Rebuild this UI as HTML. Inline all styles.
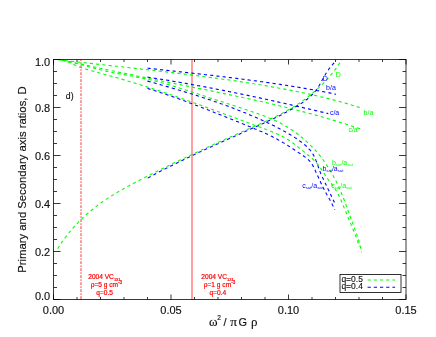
<!DOCTYPE html>
<html><head><meta charset="utf-8"><title>plot</title>
<style>html,body{margin:0;padding:0;background:#fff}svg{display:block;will-change:transform}text{font-family:"Liberation Sans",sans-serif}.gk{font-family:"Liberation Serif",serif}</style></head><body>
<svg width="436" height="337" viewBox="0 0 436 337">
<rect width="436" height="337" fill="#fff"/>
<line x1="81" y1="59.5" x2="81" y2="299.5" stroke="#f00" stroke-width="0.8" stroke-dasharray="2.8 1.3 1.6 1.3" stroke-dashoffset="1.3"/>
<line x1="192" y1="59.5" x2="192" y2="299.5" stroke="#f00" stroke-width="0.75"/>
<g fill="none" stroke-width="1.1" stroke-dasharray="3.2 3.1">
<path d="M58.5,59.8 L60.0,60.0 L61.6,60.1 L63.1,60.3 L64.7,60.5 L66.2,60.7 L67.7,60.8 L69.3,61.0 L70.8,61.2 L72.4,61.4 L73.9,61.5 L75.4,61.7 L77.0,61.9 L78.5,62.1 L80.1,62.2 L81.6,62.4 L83.1,62.6 L84.7,62.7 L86.2,62.9 L87.8,63.1 L89.3,63.3 L90.8,63.4 L92.4,63.6 L93.9,63.8 L95.5,63.9 L97.0,64.1 L98.5,64.3 L100.1,64.5 L101.6,64.6 L103.2,64.8 L104.7,65.0 L106.3,65.1 L107.8,65.3 L109.3,65.5 L110.9,65.6 L112.4,65.8 L114.0,66.0 L115.5,66.2 L117.0,66.3 L118.6,66.5 L120.1,66.7 L121.7,66.8 L123.2,67.0 L124.7,67.2 L126.3,67.3 L127.8,67.5 L129.4,67.7 L130.9,67.9 L132.4,68.0 L134.0,68.2 L135.5,68.4 L137.1,68.6 L138.6,68.7 L140.1,68.9 L141.7,69.1 L143.2,69.2 L144.8,69.4 L146.3,69.6 L147.8,69.8 L149.4,69.9 L150.9,70.1 L152.5,70.3 L154.0,70.5 L155.5,70.7 L157.1,70.8 L158.6,71.0 L160.2,71.2 L161.7,71.4 L163.2,71.5 L164.8,71.7 L166.3,71.9 L167.9,72.1 L169.4,72.3 L170.9,72.5 L172.5,72.6 L174.0,72.8 L175.6,73.0 L177.1,73.2 L178.6,73.4 L180.2,73.6 L181.7,73.8 L183.2,73.9 L184.8,74.1 L186.3,74.3 L187.9,74.5 L189.4,74.7 L190.9,74.9 L192.5,75.1 L194.0,75.3 L195.6,75.5 L197.1,75.7 L198.6,75.9 L200.2,76.1 L201.7,76.3 L203.3,76.5 L204.8,76.7 L206.3,76.9 L207.9,77.1 L209.4,77.3 L210.9,77.5 L212.5,77.7 L214.0,77.9 L215.6,78.1 L217.1,78.3 L218.6,78.5 L220.2,78.7 L221.7,79.0 L223.2,79.2 L224.8,79.4 L226.3,79.6 L227.8,79.8 L229.4,80.0 L230.9,80.3 L232.5,80.5 L234.0,80.7 L235.5,80.9 L237.1,81.2 L238.6,81.4 L240.1,81.6 L241.7,81.9 L243.2,82.1 L244.7,82.3 L246.3,82.6 L247.8,82.8 L249.3,83.0 L250.9,83.3 L252.4,83.5 L253.9,83.8 L255.4,84.0 L257.0,84.3 L258.5,84.5 L260.0,84.8 L261.6,85.0 L263.1,85.3 L264.6,85.6 L266.2,85.8 L267.7,86.1 L269.2,86.3 L270.7,86.6 L272.3,86.9 L273.8,87.1 L275.3,87.4 L276.8,87.7 L278.4,88.0 L279.9,88.2 L281.4,88.5 L282.9,88.8 L284.5,89.1 L286.0,89.4 L287.5,89.7 L289.0,90.0 L290.6,90.3 L292.1,90.6 L293.6,90.9 L295.1,91.2 L296.6,91.5 L298.1,91.8 L299.7,92.1 L301.2,92.4 L302.7,92.7 L304.2,93.0 L305.7,93.4 L307.2,93.7 L308.8,94.0 L310.3,94.3 L311.8,94.7 L313.3,95.0 L314.8,95.4 L316.3,95.7 L317.8,96.0 L319.3,96.4 L320.8,96.8 L322.3,97.1 L323.9,97.5 L325.4,97.8 L326.9,98.2 L328.4,98.6 L329.9,99.0 L331.4,99.4 L332.9,99.7 L334.4,100.1 L335.9,100.5 L337.4,100.9 L338.9,101.3 L340.3,101.7 L341.8,102.2 L343.3,102.6 L344.8,103.0 L346.3,103.4 L347.8,103.9 L349.3,104.3 L350.8,104.7 L352.3,105.2 L353.7,105.6 L355.2,106.1 L356.7,106.6 L358.2,107.0 L359.7,107.5 L361.1,108.0 L362.6,108.5" stroke="#00ff00" stroke-dashoffset="0"/>
<path d="M58.6,59.3 L60.1,59.7 L61.6,60.0 L63.2,60.3 L64.7,60.6 L66.2,60.9 L67.8,61.3 L69.3,61.6 L70.8,61.9 L72.4,62.3 L73.9,62.6 L75.4,62.9 L77.0,63.2 L78.5,63.6 L80.0,63.9 L81.5,64.2 L83.1,64.6 L84.6,64.9 L86.1,65.2 L87.7,65.5 L89.2,65.9 L90.7,66.2 L92.3,66.5 L93.8,66.9 L95.3,67.2 L96.9,67.5 L98.4,67.8 L99.9,68.2 L101.5,68.5 L103.0,68.8 L104.5,69.2 L106.0,69.5 L107.6,69.8 L109.1,70.1 L110.6,70.4 L112.2,70.8 L113.7,71.1 L115.2,71.4 L116.8,71.7 L118.3,72.1 L119.8,72.4 L121.4,72.7 L122.9,73.0 L124.4,73.3 L126.0,73.6 L127.5,74.0 L129.0,74.3 L130.6,74.6 L132.1,74.9 L133.6,75.2 L135.2,75.5 L136.7,75.9 L138.2,76.2 L139.8,76.5 L141.3,76.8 L142.8,77.1 L144.4,77.4 L145.9,77.7 L147.4,78.1 L149.0,78.4 L150.5,78.7 L152.0,79.0 L153.6,79.3 L155.1,79.6 L156.7,79.9 L158.2,80.2 L159.7,80.5 L161.3,80.9 L162.8,81.2 L164.3,81.5 L165.9,81.8 L167.4,82.1 L168.9,82.4 L170.5,82.7 L172.0,83.0 L173.5,83.3 L175.1,83.6 L176.6,84.0 L178.1,84.3 L179.7,84.6 L181.2,84.9 L182.8,85.2 L184.3,85.5 L185.8,85.8 L187.4,86.1 L188.9,86.4 L190.4,86.7 L192.0,87.0 L193.5,87.4 L195.0,87.7 L196.6,88.0 L198.1,88.3 L199.6,88.6 L201.2,88.9 L202.7,89.2 L204.3,89.5 L205.8,89.8 L207.3,90.1 L208.9,90.5 L210.4,90.8 L211.9,91.1 L213.5,91.4 L215.0,91.7 L216.5,92.0 L218.1,92.3 L219.6,92.7 L221.1,93.0 L222.7,93.3 L224.2,93.6 L225.7,93.9 L227.3,94.2 L228.8,94.6 L230.4,94.9 L231.9,95.2 L233.4,95.5 L235.0,95.8 L236.5,96.2 L238.0,96.5 L239.5,96.8 L241.1,97.1 L242.6,97.5 L244.1,97.8 L245.7,98.1 L247.2,98.5 L248.7,98.8 L250.3,99.1 L251.8,99.5 L253.3,99.8 L254.9,100.1 L256.4,100.5 L257.9,100.8 L259.4,101.2 L261.0,101.5 L262.5,101.8 L264.0,102.2 L265.6,102.5 L267.1,102.9 L268.6,103.2 L270.1,103.6 L271.7,104.0 L273.2,104.3 L274.7,104.7 L276.2,105.0 L277.8,105.4 L279.3,105.8 L280.8,106.1 L282.3,106.5 L283.8,106.9 L285.4,107.2 L286.9,107.6 L288.4,108.0 L289.9,108.4 L291.4,108.7 L293.0,109.1 L294.5,109.5 L296.0,109.9 L297.5,110.3 L299.0,110.7 L300.5,111.1 L302.1,111.5 L303.6,111.9 L305.1,112.3 L306.6,112.7 L308.1,113.1 L309.6,113.5 L311.1,113.9 L312.6,114.3 L314.2,114.7 L315.7,115.1 L317.2,115.5 L318.7,116.0 L320.2,116.4 L321.7,116.8 L323.2,117.3 L324.7,117.7 L326.2,118.1 L327.7,118.6 L329.2,119.0 L330.7,119.5 L332.2,119.9 L333.7,120.4 L335.2,120.8 L336.7,121.3 L338.2,121.7 L339.7,122.2 L341.2,122.7 L342.7,123.1 L344.2,123.6 L345.7,124.1 L347.2,124.6 L348.7,125.1 L350.1,125.5 L351.6,126.0 L353.1,126.5 L354.6,127.0 L356.1,127.5 L357.6,128.0 L359.1,128.5 L360.5,129.0 L362.0,129.6" stroke="#00ff00" stroke-dashoffset="2.4"/>
<path d="M58.5,59.7 L60.4,60.0 L62.4,60.3 L64.3,60.6 L66.2,61.0 L68.1,61.4 L70.0,61.8 L71.9,62.2 L73.8,62.7 L75.7,63.2 L77.6,63.7 L79.5,64.2 L81.4,64.7 L83.3,65.2 L85.2,65.7 L87.1,66.2 L89.0,66.8 L90.8,67.3 L92.7,67.8 L94.6,68.3 L96.5,68.8 L98.4,69.3 L100.3,69.8 L102.2,70.2 L104.1,70.7 L106.0,71.1 L107.9,71.5 L109.8,72.0 L111.7,72.3 L113.6,72.7 L115.6,73.1 L117.5,73.5 L119.4,73.9 L121.3,74.2 L123.3,74.6 L125.2,74.9 L127.1,75.3 L129.0,75.6 L130.9,76.0 L132.9,76.3 L134.8,76.7 L136.7,77.1 L138.6,77.4 L140.6,77.8 L142.5,78.2 L144.4,78.6 L146.3,79.0 L148.2,79.4 L150.1,79.8 L152.0,80.3 L153.9,80.7 L155.8,81.2 L157.7,81.7 L159.6,82.1 L161.5,82.7 L163.4,83.2 L165.2,83.7 L167.1,84.2 L169.0,84.8 L170.9,85.3 L172.7,85.9 L174.6,86.5 L176.5,87.1 L178.3,87.7 L180.2,88.2 L182.1,88.8 L183.9,89.4 L185.8,90.0 L187.7,90.6 L189.5,91.2 L191.4,91.8 L193.2,92.4 L195.1,93.0 L197.0,93.6 L198.8,94.2 L200.7,94.9 L202.5,95.5 L204.4,96.1 L206.3,96.7 L208.1,97.3 L210.0,97.9 L211.8,98.5 L213.7,99.1 L215.5,99.7 L217.4,100.3 L219.3,100.9 L221.1,101.5 L223.0,102.1 L224.8,102.7 L226.7,103.3 L228.5,103.9 L230.4,104.5 L232.3,105.1 L234.1,105.8 L236.0,106.4 L237.8,107.0 L239.7,107.6 L241.5,108.2 L243.4,108.8 L245.3,109.4 L247.1,110.1 L249.0,110.7 L250.8,111.3 L252.7,111.9 L254.5,112.5 L256.4,113.2 L258.2,113.8 L260.1,114.5 L261.9,115.1 L263.8,115.8 L265.6,116.5 L267.4,117.2 L269.2,118.0 L271.0,118.7 L272.8,119.5 L274.6,120.3 L276.3,121.1 L278.1,122.0 L279.8,122.8 L281.5,123.8 L283.3,124.7 L285.0,125.7 L286.6,126.7 L288.3,127.7 L289.9,128.7 L291.6,129.8 L293.2,130.9 L294.8,132.0 L296.4,133.2 L297.9,134.3 L299.5,135.5 L301.0,136.8 L302.5,138.0 L304.0,139.3 L305.5,140.6 L306.9,141.9 L308.4,143.2 L309.8,144.6 L311.1,145.9 L312.5,147.3 L313.8,148.8 L315.2,150.2 L316.5,151.7 L317.7,153.1 L319.0,154.6 L320.2,156.2 L321.4,157.7 L322.6,159.2 L323.7,160.8 L324.8,162.4 L326.0,164.0 L327.0,165.6 L328.1,167.3 L329.1,168.9 L330.2,170.6 L331.2,172.2 L332.1,173.9 L333.1,175.6 L334.0,177.4 L334.9,179.1 L335.8,180.8 L336.7,182.6 L337.5,184.3 L338.4,186.1 L339.2,187.9 L340.0,189.6 L340.8,191.4 L341.5,193.2 L342.2,195.0 L343.0,196.8 L343.7,198.7 L344.4,200.5 L345.1,202.3 L345.8,204.1 L346.4,206.0 L347.1,207.8 L347.8,209.7 L348.4,211.5 L349.1,213.3 L349.7,215.2 L350.4,217.0 L351.1,218.9 L351.7,220.7 L352.4,222.5 L353.1,224.4 L353.8,226.2 L354.4,228.0 L355.1,229.9 L355.8,231.7 L356.5,233.6 L357.1,235.4 L357.7,237.2 L358.3,239.1 L358.9,241.0 L359.4,242.8 L360.0,244.7 L360.4,246.6 L360.8,248.5 L361.2,250.4 L361.5,252.4" stroke="#00ff00" stroke-dashoffset="2.4"/>
<path d="M59.5,59.8 L61.4,60.0 L63.2,60.4 L65.1,60.9 L66.8,61.5 L68.6,62.2 L70.3,62.9 L72.0,63.7 L73.8,64.5 L75.5,65.3 L77.2,66.1 L79.0,66.8 L80.7,67.4 L82.5,68.1 L84.3,68.7 L86.1,69.2 L87.9,69.8 L89.7,70.3 L91.5,70.8 L93.3,71.3 L95.1,71.8 L96.9,72.3 L98.7,72.8 L100.5,73.3 L102.4,73.8 L104.2,74.3 L106.0,74.7 L107.8,75.2 L109.6,75.7 L111.4,76.2 L113.2,76.8 L115.1,77.3 L116.9,77.8 L118.7,78.3 L120.5,78.8 L122.3,79.4 L124.1,79.9 L125.9,80.4 L127.7,81.0 L129.5,81.5 L131.3,82.0 L133.1,82.6 L134.9,83.1 L136.7,83.7 L138.5,84.2 L140.3,84.8 L142.1,85.4 L143.9,85.9 L145.7,86.5 L147.5,87.1 L149.3,87.6 L151.1,88.2 L152.9,88.8 L154.6,89.4 L156.4,89.9 L158.2,90.5 L160.0,91.1 L161.8,91.7 L163.6,92.3 L165.4,92.9 L167.2,93.5 L168.9,94.1 L170.7,94.7 L172.5,95.3 L174.3,95.9 L176.1,96.5 L177.8,97.2 L179.6,97.8 L181.4,98.4 L183.2,99.0 L184.9,99.6 L186.7,100.2 L188.5,100.9 L190.3,101.5 L192.0,102.1 L193.8,102.8 L195.6,103.4 L197.3,104.0 L199.1,104.7 L200.9,105.3 L202.6,105.9 L204.4,106.6 L206.2,107.2 L207.9,107.9 L209.7,108.5 L211.5,109.2 L213.2,109.8 L215.0,110.5 L216.8,111.1 L218.5,111.8 L220.3,112.4 L222.1,113.1 L223.8,113.7 L225.6,114.4 L227.4,115.0 L229.1,115.7 L230.9,116.3 L232.6,117.0 L234.4,117.6 L236.2,118.3 L237.9,119.0 L239.7,119.6 L241.5,120.3 L243.2,120.9 L245.0,121.6 L246.8,122.2 L248.5,122.9 L250.3,123.6 L252.1,124.2 L253.8,124.9 L255.6,125.5 L257.4,126.2 L259.1,126.8 L260.9,127.5 L262.7,128.1 L264.4,128.8 L266.2,129.5 L268.0,130.1 L269.7,130.8 L271.5,131.5 L273.2,132.2 L275.0,133.0 L276.7,133.7 L278.4,134.5 L280.1,135.3 L281.7,136.1 L283.4,137.0 L285.0,137.9 L286.6,138.8 L288.2,139.8 L289.8,140.8 L291.4,141.9 L292.9,143.0 L294.4,144.1 L295.9,145.3 L297.4,146.5 L298.8,147.6 L300.3,148.8 L301.8,150.0 L303.2,151.2 L304.7,152.4 L306.2,153.6 L307.6,154.8 L309.1,156.0 L310.5,157.2 L311.9,158.4 L313.3,159.7 L314.6,161.0 L315.9,162.3 L317.2,163.7 L318.4,165.2 L319.5,166.6 L320.6,168.2 L321.7,169.7 L322.7,171.3 L323.8,172.8 L324.8,174.4 L325.8,176.0 L326.9,177.5 L327.9,179.1 L329.0,180.6 L330.2,182.1 L331.3,183.7 L332.4,185.2 L333.5,186.7 L334.6,188.3 L335.6,189.8 L336.6,191.4 L337.5,193.1 L338.4,194.7 L339.2,196.4 L340.0,198.1 L340.8,199.8 L341.6,201.5 L342.3,203.2 L343.0,205.0 L343.7,206.7 L344.4,208.5 L345.1,210.2 L345.9,211.9 L346.6,213.7 L347.3,215.4 L348.0,217.2 L348.7,218.9 L349.4,220.6 L350.1,222.4 L350.9,224.1 L351.6,225.8 L352.3,227.6 L353.0,229.3 L353.7,231.1 L354.4,232.8 L355.1,234.6 L355.8,236.3 L356.5,238.1 L357.1,239.8 L357.7,241.6 L358.3,243.4 L358.9,245.2 L359.4,247.0" stroke="#00ff00" stroke-dashoffset="4.2"/>
<path d="M57.7,248.7 L58.6,247.2 L59.6,245.7 L60.5,244.3 L61.5,242.8 L62.5,241.4 L63.5,239.9 L64.5,238.5 L65.6,237.1 L66.6,235.7 L67.7,234.3 L68.8,233.0 L69.9,231.6 L71.0,230.3 L72.2,229.0 L73.3,227.7 L74.5,226.4 L75.7,225.1 L76.9,223.8 L78.1,222.6 L79.3,221.3 L80.5,220.1 L81.8,218.9 L83.0,217.7 L84.3,216.5 L85.6,215.3 L86.9,214.2 L88.2,213.0 L89.5,211.9 L90.8,210.8 L92.2,209.7 L93.5,208.6 L94.9,207.5 L96.2,206.4 L97.6,205.4 L99.0,204.4 L100.4,203.3 L101.8,202.3 L103.3,201.3 L104.7,200.3 L106.1,199.4 L107.6,198.4 L109.0,197.5 L110.5,196.5 L112.0,195.6 L113.5,194.7 L114.9,193.8 L116.4,192.9 L117.9,192.0 L119.4,191.1 L121.0,190.3 L122.5,189.4 L124.0,188.5 L125.5,187.7 L127.0,186.8 L128.6,186.0 L130.1,185.2 L131.7,184.4 L133.2,183.5 L134.7,182.7 L136.3,181.9 L137.8,181.1 L139.4,180.3 L140.9,179.5 L142.5,178.7 L144.0,177.9 L145.6,177.1 L147.1,176.3 L148.7,175.5 L150.2,174.7 L151.8,173.9 L153.3,173.1 L154.9,172.4 L156.5,171.6 L158.0,170.8 L159.6,170.0 L161.1,169.3 L162.7,168.5 L164.3,167.7 L165.8,166.9 L167.4,166.2 L169.0,165.4 L170.5,164.7 L172.1,163.9 L173.7,163.1 L175.2,162.4 L176.8,161.6 L178.4,160.9 L179.9,160.1 L181.5,159.4 L183.1,158.6 L184.7,157.9 L186.2,157.1 L187.8,156.4 L189.4,155.6 L190.9,154.9 L192.5,154.2 L194.1,153.4 L195.7,152.7 L197.3,152.0 L198.8,151.2 L200.4,150.5 L202.0,149.8 L203.6,149.1 L205.2,148.3 L206.7,147.6 L208.3,146.9 L209.9,146.2 L211.5,145.4 L213.1,144.7 L214.6,144.0 L216.2,143.3 L217.8,142.6 L219.4,141.8 L221.0,141.1 L222.6,140.4 L224.2,139.7 L225.7,139.0 L227.3,138.3 L228.9,137.6 L230.5,136.9 L232.1,136.2 L233.7,135.4 L235.3,134.7 L236.9,134.0 L238.5,133.3 L240.1,132.6 L241.7,131.9 L243.3,131.2 L244.9,130.5 L246.5,129.8 L248.1,129.1 L249.7,128.4 L251.3,127.7 L252.9,127.0 L254.5,126.3 L256.1,125.6 L257.6,124.9 L259.2,124.2 L260.8,123.4 L262.4,122.7 L264.0,122.0 L265.6,121.3 L267.2,120.6 L268.8,119.8 L270.4,119.1 L271.9,118.3 L273.5,117.6 L275.1,116.8 L276.7,116.1 L278.2,115.3 L279.8,114.5 L281.3,113.7 L282.8,112.9 L284.4,112.1 L285.9,111.2 L287.4,110.4 L288.9,109.5 L290.4,108.7 L291.9,107.8 L293.4,106.9 L294.9,106.0 L296.4,105.1 L297.8,104.1 L299.3,103.2 L300.7,102.2 L302.1,101.2 L303.6,100.2 L305.0,99.2 L306.3,98.1 L307.7,97.1 L309.1,96.0 L310.5,94.9 L311.8,93.8 L313.1,92.7 L314.5,91.6 L315.8,90.5 L317.1,89.3 L318.3,88.1 L319.6,86.9 L320.9,85.7 L322.1,84.5 L323.3,83.3 L324.5,82.0 L325.7,80.8 L326.9,79.5 L328.1,78.2 L329.2,76.9 L330.3,75.6 L331.5,74.2 L332.6,72.9 L333.6,71.5 L334.7,70.1 L335.8,68.7 L336.8,67.3 L337.8,65.8 L338.8,64.4 L339.8,62.9 L340.7,61.5 L341.7,60.0" stroke="#00ff00" stroke-dashoffset="0"/>
<path d="M147.5,68.2 L148.5,68.3 L149.4,68.4 L150.4,68.5 L151.3,68.6 L152.3,68.7 L153.2,68.8 L154.2,68.9 L155.1,69.0 L156.1,69.1 L157.0,69.2 L158.0,69.4 L158.9,69.5 L159.9,69.6 L160.8,69.7 L161.8,69.8 L162.7,69.9 L163.7,70.0 L164.6,70.1 L165.6,70.2 L166.5,70.3 L167.5,70.4 L168.4,70.5 L169.4,70.6 L170.3,70.7 L171.3,70.8 L172.2,70.9 L173.2,71.0 L174.1,71.1 L175.1,71.2 L176.0,71.3 L177.0,71.4 L177.9,71.5 L178.9,71.7 L179.8,71.8 L180.8,71.9 L181.7,72.0 L182.7,72.1 L183.6,72.2 L184.6,72.3 L185.5,72.4 L186.5,72.5 L187.4,72.6 L188.4,72.7 L189.3,72.8 L190.3,72.9 L191.2,73.0 L192.2,73.1 L193.1,73.2 L194.1,73.4 L195.0,73.5 L196.0,73.6 L196.9,73.7 L197.9,73.8 L198.8,73.9 L199.8,74.0 L200.7,74.1 L201.7,74.2 L202.6,74.3 L203.6,74.4 L204.5,74.5 L205.5,74.7 L206.4,74.8 L207.4,74.9 L208.3,75.0 L209.3,75.1 L210.2,75.2 L211.2,75.3 L212.1,75.4 L213.1,75.5 L214.0,75.7 L215.0,75.8 L215.9,75.9 L216.9,76.0 L217.8,76.1 L218.8,76.2 L219.7,76.3 L220.7,76.4 L221.6,76.6 L222.6,76.7 L223.5,76.8 L224.5,76.9 L225.4,77.0 L226.4,77.1 L227.3,77.2 L228.3,77.4 L229.2,77.5 L230.2,77.6 L231.1,77.7 L232.1,77.8 L233.0,78.0 L234.0,78.1 L234.9,78.2 L235.9,78.3 L236.8,78.4 L237.8,78.6 L238.7,78.7 L239.7,78.8 L240.6,78.9 L241.6,79.0 L242.5,79.2 L243.5,79.3 L244.4,79.4 L245.4,79.5 L246.3,79.7 L247.3,79.8 L248.2,79.9 L249.2,80.0 L250.1,80.2 L251.1,80.3 L252.0,80.4 L253.0,80.5 L253.9,80.7 L254.9,80.8 L255.8,80.9 L256.8,81.0 L257.7,81.2 L258.7,81.3 L259.6,81.4 L260.6,81.6 L261.5,81.7 L262.5,81.8 L263.4,82.0 L264.3,82.1 L265.3,82.2 L266.2,82.4 L267.2,82.5 L268.1,82.6 L269.1,82.8 L270.0,82.9 L271.0,83.0 L271.9,83.2 L272.9,83.3 L273.8,83.5 L274.8,83.6 L275.7,83.7 L276.7,83.9 L277.6,84.0 L278.5,84.2 L279.5,84.3 L280.4,84.4 L281.4,84.6 L282.3,84.7 L283.3,84.9 L284.2,85.0 L285.2,85.2 L286.1,85.3 L287.1,85.5 L288.0,85.6 L288.9,85.8 L289.9,85.9 L290.8,86.1 L291.8,86.2 L292.7,86.4 L293.7,86.5 L294.6,86.7 L295.6,86.8 L296.5,87.0 L297.4,87.1 L298.4,87.3 L299.3,87.4 L300.3,87.6 L301.2,87.8 L302.2,87.9 L303.1,88.1 L304.0,88.2 L305.0,88.4 L305.9,88.6 L306.9,88.7 L307.8,88.9 L308.7,89.0 L309.7,89.2 L310.6,89.4 L311.6,89.5 L312.5,89.7 L313.5,89.9 L314.4,90.1 L315.3,90.2 L316.3,90.4 L317.2,90.6 L318.2,90.7 L319.1,90.9 L320.0,91.1 L321.0,91.3 L321.9,91.4 L322.9,91.6 L323.8,91.8 L324.7,92.0 L325.7,92.2 L326.6,92.3 L327.5,92.5 L328.5,92.7 L329.4,92.9 L330.4,93.1 L331.3,93.3 L332.2,93.5 L333.2,93.7 L334.1,93.9 L335.0,94.1 L336.0,94.3" stroke="#0000ff" stroke-dashoffset="0"/>
<path d="M147.5,77.1 L148.4,77.2 L149.3,77.4 L150.3,77.5 L151.2,77.6 L152.1,77.8 L153.0,77.9 L153.9,78.1 L154.8,78.2 L155.8,78.4 L156.7,78.5 L157.6,78.6 L158.5,78.8 L159.4,78.9 L160.3,79.1 L161.2,79.2 L162.2,79.4 L163.1,79.5 L164.0,79.7 L164.9,79.8 L165.8,80.0 L166.7,80.1 L167.6,80.3 L168.6,80.4 L169.5,80.6 L170.4,80.7 L171.3,80.9 L172.2,81.1 L173.1,81.2 L174.0,81.4 L175.0,81.5 L175.9,81.7 L176.8,81.8 L177.7,82.0 L178.6,82.1 L179.5,82.3 L180.4,82.5 L181.4,82.6 L182.3,82.8 L183.2,82.9 L184.1,83.1 L185.0,83.3 L185.9,83.4 L186.8,83.6 L187.7,83.8 L188.7,83.9 L189.6,84.1 L190.5,84.2 L191.4,84.4 L192.3,84.6 L193.2,84.7 L194.1,84.9 L195.0,85.1 L196.0,85.2 L196.9,85.4 L197.8,85.6 L198.7,85.7 L199.6,85.9 L200.5,86.1 L201.4,86.2 L202.3,86.4 L203.3,86.6 L204.2,86.8 L205.1,86.9 L206.0,87.1 L206.9,87.3 L207.8,87.4 L208.7,87.6 L209.6,87.8 L210.5,88.0 L211.5,88.1 L212.4,88.3 L213.3,88.5 L214.2,88.7 L215.1,88.8 L216.0,89.0 L216.9,89.2 L217.8,89.4 L218.7,89.5 L219.6,89.7 L220.6,89.9 L221.5,90.1 L222.4,90.3 L223.3,90.4 L224.2,90.6 L225.1,90.8 L226.0,91.0 L226.9,91.2 L227.8,91.3 L228.7,91.5 L229.6,91.7 L230.6,91.9 L231.5,92.1 L232.4,92.3 L233.3,92.4 L234.2,92.6 L235.1,92.8 L236.0,93.0 L236.9,93.2 L237.8,93.4 L238.7,93.6 L239.6,93.7 L240.5,93.9 L241.5,94.1 L242.4,94.3 L243.3,94.5 L244.2,94.7 L245.1,94.9 L246.0,95.1 L246.9,95.2 L247.8,95.4 L248.7,95.6 L249.6,95.8 L250.5,96.0 L251.4,96.2 L252.3,96.4 L253.3,96.6 L254.2,96.8 L255.1,97.0 L256.0,97.2 L256.9,97.4 L257.8,97.6 L258.7,97.7 L259.6,97.9 L260.5,98.1 L261.4,98.3 L262.3,98.5 L263.2,98.7 L264.1,98.9 L265.0,99.1 L265.9,99.3 L266.9,99.5 L267.8,99.7 L268.7,99.9 L269.6,100.1 L270.5,100.3 L271.4,100.5 L272.3,100.7 L273.2,100.9 L274.1,101.1 L275.0,101.3 L275.9,101.5 L276.8,101.7 L277.7,101.9 L278.6,102.1 L279.5,102.3 L280.4,102.5 L281.3,102.7 L282.2,102.9 L283.1,103.1 L284.1,103.3 L285.0,103.5 L285.9,103.7 L286.8,103.9 L287.7,104.1 L288.6,104.3 L289.5,104.5 L290.4,104.7 L291.3,104.9 L292.2,105.2 L293.1,105.4 L294.0,105.6 L294.9,105.8 L295.8,106.0 L296.7,106.2 L297.6,106.4 L298.5,106.6 L299.4,106.8 L300.3,107.0 L301.2,107.2 L302.1,107.4 L303.0,107.6 L303.9,107.9 L304.8,108.1 L305.7,108.3 L306.6,108.5 L307.6,108.7 L308.5,108.9 L309.4,109.1 L310.3,109.3 L311.2,109.5 L312.1,109.7 L313.0,110.0 L313.9,110.2 L314.8,110.4 L315.7,110.6 L316.6,110.8 L317.5,111.0 L318.4,111.2 L319.3,111.4 L320.2,111.7 L321.1,111.9 L322.0,112.1 L322.9,112.3 L323.8,112.5 L324.7,112.7 L325.6,112.9 L326.5,113.2 L327.4,113.4 L328.3,113.6" stroke="#0000ff" stroke-dashoffset="0"/>
<path d="M147.5,81.1 L148.7,81.4 L149.8,81.7 L151.0,82.0 L152.1,82.4 L153.3,82.7 L154.4,83.0 L155.6,83.3 L156.7,83.7 L157.9,84.0 L159.0,84.3 L160.2,84.6 L161.3,85.0 L162.5,85.3 L163.6,85.6 L164.8,86.0 L165.9,86.3 L167.1,86.6 L168.2,86.9 L169.4,87.3 L170.5,87.6 L171.7,87.9 L172.9,88.3 L174.0,88.6 L175.2,89.0 L176.3,89.3 L177.5,89.6 L178.6,90.0 L179.8,90.3 L180.9,90.7 L182.1,91.0 L183.2,91.4 L184.4,91.7 L185.5,92.1 L186.7,92.4 L187.8,92.8 L189.0,93.1 L190.1,93.5 L191.3,93.8 L192.4,94.2 L193.6,94.5 L194.7,94.9 L195.8,95.3 L197.0,95.6 L198.1,96.0 L199.3,96.4 L200.4,96.7 L201.6,97.1 L202.7,97.5 L203.9,97.9 L205.0,98.2 L206.1,98.6 L207.3,99.0 L208.4,99.4 L209.6,99.7 L210.7,100.1 L211.8,100.5 L213.0,100.9 L214.1,101.3 L215.3,101.7 L216.4,102.1 L217.5,102.5 L218.7,102.9 L219.8,103.3 L220.9,103.7 L222.1,104.1 L223.2,104.5 L224.3,104.9 L225.4,105.3 L226.6,105.7 L227.7,106.1 L228.8,106.5 L230.0,107.0 L231.1,107.4 L232.2,107.8 L233.3,108.2 L234.4,108.7 L235.6,109.1 L236.7,109.5 L237.8,110.0 L238.9,110.4 L240.0,110.8 L241.1,111.3 L242.3,111.7 L243.4,112.2 L244.5,112.6 L245.6,113.1 L246.7,113.5 L247.8,114.0 L248.9,114.4 L250.0,114.9 L251.1,115.4 L252.2,115.8 L253.3,116.3 L254.4,116.8 L255.5,117.2 L256.6,117.7 L257.7,118.2 L258.8,118.7 L259.9,119.2 L261.0,119.7 L262.1,120.2 L263.2,120.7 L264.3,121.2 L265.3,121.7 L266.4,122.2 L267.5,122.7 L268.6,123.2 L269.7,123.7 L270.7,124.2 L271.8,124.7 L272.9,125.3 L274.0,125.8 L275.0,126.4 L276.1,126.9 L277.2,127.4 L278.2,128.0 L279.3,128.5 L280.3,129.1 L281.4,129.7 L282.5,130.2 L283.5,130.8 L284.6,131.4 L285.6,132.0 L286.6,132.6 L287.7,133.2 L288.7,133.8 L289.8,134.4 L290.8,135.0 L291.8,135.6 L292.8,136.3 L293.9,136.9 L294.9,137.6 L295.9,138.2 L296.9,138.9 L297.9,139.6 L298.9,140.3 L299.8,141.0 L300.8,141.7 L301.8,142.4 L302.7,143.1 L303.6,143.9 L304.6,144.7 L305.5,145.5 L306.4,146.2 L307.2,147.1 L308.1,147.9 L308.9,148.8 L309.7,149.6 L310.5,150.5 L311.2,151.5 L311.9,152.4 L312.5,153.4 L313.1,154.4 L313.7,155.4 L314.2,156.5 L314.8,157.6 L315.2,158.7 L315.7,159.8 L316.1,160.9 L316.6,162.0 L317.0,163.2 L317.4,164.3 L317.8,165.5 L318.2,166.6 L318.6,167.8 L319.0,168.9 L319.4,170.0 L319.8,171.2 L320.3,172.3 L320.7,173.4 L321.2,174.5 L321.7,175.6 L322.2,176.7 L322.7,177.8 L323.2,178.8 L323.7,179.9 L324.2,181.0 L324.7,182.1 L325.2,183.1 L325.8,184.2 L326.3,185.3 L326.8,186.4 L327.3,187.5 L327.8,188.6 L328.3,189.6 L328.9,190.7 L329.4,191.8 L329.9,192.9 L330.4,194.0 L330.9,195.1 L331.4,196.2 L332.0,197.2 L332.5,198.3 L333.0,199.4 L333.5,200.5 L334.0,201.6 L334.5,202.7 L335.0,203.7 L335.6,204.8" stroke="#0000ff" stroke-dashoffset="0"/>
<path d="M147.5,88.4 L148.6,88.7 L149.7,89.1 L150.9,89.4 L152.0,89.8 L153.1,90.1 L154.2,90.5 L155.3,90.8 L156.5,91.2 L157.6,91.6 L158.7,91.9 L159.8,92.3 L160.9,92.7 L162.0,93.0 L163.1,93.4 L164.3,93.8 L165.4,94.1 L166.5,94.5 L167.6,94.9 L168.7,95.3 L169.8,95.7 L170.9,96.1 L172.0,96.4 L173.1,96.8 L174.2,97.2 L175.3,97.6 L176.5,98.0 L177.6,98.4 L178.7,98.8 L179.8,99.2 L180.9,99.6 L182.0,100.0 L183.1,100.4 L184.2,100.8 L185.3,101.2 L186.4,101.6 L187.5,102.1 L188.6,102.5 L189.7,102.9 L190.8,103.3 L191.9,103.7 L193.0,104.1 L194.1,104.5 L195.2,105.0 L196.3,105.4 L197.4,105.8 L198.5,106.2 L199.6,106.7 L200.7,107.1 L201.8,107.5 L202.9,107.9 L204.0,108.4 L205.1,108.8 L206.2,109.2 L207.2,109.6 L208.3,110.1 L209.4,110.5 L210.5,110.9 L211.6,111.4 L212.7,111.8 L213.8,112.2 L214.9,112.7 L216.0,113.1 L217.1,113.5 L218.2,114.0 L219.3,114.4 L220.4,114.8 L221.4,115.3 L222.5,115.7 L223.6,116.1 L224.7,116.6 L225.8,117.0 L226.9,117.5 L228.0,117.9 L229.1,118.3 L230.2,118.8 L231.3,119.2 L232.3,119.6 L233.4,120.1 L234.5,120.5 L235.6,121.0 L236.7,121.4 L237.8,121.8 L238.9,122.3 L240.0,122.7 L241.1,123.1 L242.1,123.6 L243.2,124.0 L244.3,124.4 L245.4,124.9 L246.5,125.3 L247.6,125.7 L248.7,126.2 L249.7,126.6 L250.8,127.1 L251.9,127.5 L253.0,128.0 L254.1,128.4 L255.1,128.9 L256.2,129.3 L257.3,129.8 L258.4,130.2 L259.4,130.7 L260.5,131.2 L261.6,131.6 L262.7,132.1 L263.7,132.6 L264.8,133.1 L265.8,133.6 L266.9,134.1 L268.0,134.6 L269.0,135.1 L270.1,135.6 L271.1,136.1 L272.2,136.6 L273.2,137.2 L274.2,137.7 L275.3,138.2 L276.3,138.8 L277.3,139.3 L278.4,139.9 L279.4,140.5 L280.4,141.1 L281.4,141.7 L282.5,142.3 L283.5,142.9 L284.5,143.5 L285.5,144.1 L286.5,144.7 L287.5,145.3 L288.5,146.0 L289.5,146.6 L290.5,147.2 L291.5,147.9 L292.5,148.5 L293.5,149.2 L294.4,149.8 L295.4,150.5 L296.4,151.1 L297.4,151.8 L298.4,152.5 L299.4,153.1 L300.3,153.8 L301.3,154.5 L302.3,155.1 L303.3,155.8 L304.2,156.5 L305.2,157.1 L306.1,157.8 L307.0,158.5 L307.9,159.3 L308.7,160.1 L309.5,160.9 L310.3,161.7 L311.0,162.6 L311.7,163.6 L312.3,164.6 L312.8,165.6 L313.4,166.6 L313.9,167.7 L314.4,168.7 L314.9,169.8 L315.5,170.9 L315.9,172.0 L316.4,173.0 L316.9,174.1 L317.4,175.2 L317.9,176.2 L318.4,177.3 L318.9,178.4 L319.4,179.5 L319.9,180.5 L320.3,181.6 L320.8,182.7 L321.3,183.7 L321.8,184.8 L322.3,185.9 L322.9,186.9 L323.4,188.0 L323.9,189.0 L324.4,190.1 L325.0,191.1 L325.5,192.1 L326.1,193.2 L326.7,194.2 L327.2,195.2 L327.8,196.2 L328.4,197.3 L329.0,198.3 L329.5,199.3 L330.1,200.3 L330.7,201.4 L331.2,202.4 L331.8,203.4 L332.3,204.5 L332.8,205.5 L333.3,206.6 L333.8,207.6 L334.3,208.7 L334.8,209.8" stroke="#0000ff" stroke-dashoffset="0"/>
<path d="M147.8,178.0 L148.8,177.5 L149.8,176.9 L150.8,176.4 L151.8,175.8 L152.8,175.3 L153.8,174.8 L154.8,174.2 L155.8,173.7 L156.8,173.2 L157.8,172.6 L158.8,172.1 L159.8,171.6 L160.8,171.0 L161.8,170.5 L162.8,170.0 L163.8,169.5 L164.8,169.0 L165.9,168.5 L166.9,167.9 L167.9,167.4 L168.9,166.9 L169.9,166.4 L170.9,165.9 L171.9,165.4 L172.9,164.9 L174.0,164.4 L175.0,163.9 L176.0,163.4 L177.0,162.9 L178.0,162.4 L179.0,161.9 L180.1,161.4 L181.1,160.9 L182.1,160.4 L183.1,159.9 L184.1,159.4 L185.2,158.9 L186.2,158.4 L187.2,157.9 L188.2,157.4 L189.3,157.0 L190.3,156.5 L191.3,156.0 L192.3,155.5 L193.4,155.0 L194.4,154.5 L195.4,154.1 L196.4,153.6 L197.5,153.1 L198.5,152.6 L199.5,152.1 L200.5,151.7 L201.6,151.2 L202.6,150.7 L203.6,150.2 L204.7,149.8 L205.7,149.3 L206.7,148.8 L207.8,148.4 L208.8,147.9 L209.8,147.4 L210.8,146.9 L211.9,146.5 L212.9,146.0 L213.9,145.5 L215.0,145.1 L216.0,144.6 L217.0,144.1 L218.1,143.7 L219.1,143.2 L220.1,142.7 L221.2,142.3 L222.2,141.8 L223.2,141.3 L224.3,140.9 L225.3,140.4 L226.3,139.9 L227.4,139.5 L228.4,139.0 L229.4,138.5 L230.5,138.1 L231.5,137.6 L232.5,137.2 L233.6,136.7 L234.6,136.2 L235.7,135.8 L236.7,135.3 L237.7,134.8 L238.8,134.4 L239.8,133.9 L240.8,133.4 L241.9,133.0 L242.9,132.5 L243.9,132.1 L245.0,131.6 L246.0,131.1 L247.0,130.7 L248.1,130.2 L249.1,129.7 L250.1,129.3 L251.2,128.8 L252.2,128.3 L253.2,127.9 L254.3,127.4 L255.3,126.9 L256.3,126.5 L257.4,126.0 L258.4,125.5 L259.4,125.1 L260.5,124.6 L261.5,124.1 L262.5,123.7 L263.6,123.2 L264.6,122.7 L265.6,122.2 L266.7,121.8 L267.7,121.3 L268.7,120.8 L269.8,120.3 L270.8,119.8 L271.8,119.4 L272.8,118.9 L273.9,118.4 L274.9,117.9 L275.9,117.4 L276.9,116.9 L277.9,116.4 L279.0,115.9 L280.0,115.4 L281.0,114.9 L282.0,114.4 L283.0,113.9 L284.0,113.3 L285.0,112.8 L286.0,112.3 L287.0,111.7 L288.0,111.2 L289.0,110.7 L290.0,110.1 L291.0,109.6 L292.0,109.0 L293.0,108.5 L294.0,107.9 L295.0,107.3 L295.9,106.7 L296.9,106.1 L297.9,105.6 L298.9,105.0 L299.8,104.4 L300.8,103.7 L301.7,103.1 L302.7,102.5 L303.6,101.8 L304.5,101.2 L305.4,100.5 L306.3,99.8 L307.2,99.2 L308.1,98.4 L308.9,97.7 L309.8,97.0 L310.6,96.2 L311.4,95.5 L312.2,94.7 L313.0,93.9 L313.7,93.0 L314.5,92.2 L315.2,91.3 L315.9,90.5 L316.5,89.5 L317.2,88.6 L317.8,87.7 L318.4,86.7 L319.0,85.8 L319.6,84.8 L320.2,83.8 L320.7,82.8 L321.3,81.8 L321.8,80.8 L322.4,79.8 L322.9,78.8 L323.5,77.8 L324.1,76.8 L324.6,75.8 L325.2,74.8 L325.8,73.8 L326.4,72.8 L327.0,71.8 L327.6,70.9 L328.3,70.0 L328.9,69.0 L329.6,68.1 L330.3,67.2 L331.0,66.4 L331.7,65.5 L332.5,64.7 L333.2,63.8 L334.0,63.0 L334.8,62.2 L335.7,61.5" stroke="#0000ff" stroke-dashoffset="0"/>
</g>
<g stroke="#000" stroke-width="0.78" fill="none">
<rect x="53.5" y="59.5" width="352.5" height="240.0"/>
<path d="M53.50,299.5v-5M53.50,59.5v5M77.00,299.5v-2.5M77.00,59.5v2.5M100.50,299.5v-2.5M100.50,59.5v2.5M124.00,299.5v-2.5M124.00,59.5v2.5M147.50,299.5v-2.5M147.50,59.5v2.5M171.00,299.5v-5M171.00,59.5v5M194.50,299.5v-2.5M194.50,59.5v2.5M218.00,299.5v-2.5M218.00,59.5v2.5M241.50,299.5v-2.5M241.50,59.5v2.5M265.00,299.5v-2.5M265.00,59.5v2.5M288.50,299.5v-5M288.50,59.5v5M312.00,299.5v-2.5M312.00,59.5v2.5M335.50,299.5v-2.5M335.50,59.5v2.5M359.00,299.5v-2.5M359.00,59.5v2.5M382.50,299.5v-2.5M382.50,59.5v2.5M406.00,299.5v-5M406.00,59.5v5M53.5,299.50h7M406.0,299.50h-7M53.5,287.50h3.5M406.0,287.50h-3.5M53.5,275.50h3.5M406.0,275.50h-3.5M53.5,263.50h3.5M406.0,263.50h-3.5M53.5,251.50h7M406.0,251.50h-7M53.5,239.50h3.5M406.0,239.50h-3.5M53.5,227.50h3.5M406.0,227.50h-3.5M53.5,215.50h3.5M406.0,215.50h-3.5M53.5,203.50h7M406.0,203.50h-7M53.5,191.50h3.5M406.0,191.50h-3.5M53.5,179.50h3.5M406.0,179.50h-3.5M53.5,167.50h3.5M406.0,167.50h-3.5M53.5,155.50h7M406.0,155.50h-7M53.5,143.50h3.5M406.0,143.50h-3.5M53.5,131.50h3.5M406.0,131.50h-3.5M53.5,119.50h3.5M406.0,119.50h-3.5M53.5,107.50h7M406.0,107.50h-7M53.5,95.50h3.5M406.0,95.50h-3.5M53.5,83.50h3.5M406.0,83.50h-3.5M53.5,71.50h3.5M406.0,71.50h-3.5M53.5,59.50h7M406.0,59.50h-7"/>
</g>
<g font-size="11" fill="#111" stroke="#111" stroke-width="0.15">
<text x="50.2" y="65.6" text-anchor="end">1.0</text>
<text x="50.2" y="111.6" text-anchor="end">0.8</text>
<text x="50.2" y="159.6" text-anchor="end">0.6</text>
<text x="50.2" y="207.6" text-anchor="end">0.4</text>
<text x="50.2" y="256" text-anchor="end">0.2</text>
<text x="50.2" y="299.7" text-anchor="end">0.0</text>
<text x="53.5" y="313.9" text-anchor="middle">0.00</text>
<text x="171" y="313.9" text-anchor="middle">0.05</text>
<text x="288.5" y="313.9" text-anchor="middle">0.10</text>
<text x="406" y="313.9" text-anchor="middle">0.15</text>
<text transform="translate(25.8,179.5) rotate(-90)" text-anchor="middle" font-size="11.3">Primary and Secondary axis ratios, D</text>
<text x="208.9" y="325.7" class="gk" font-size="13">ω</text><text x="217.3" y="320.3" font-size="6.5">2</text><text x="223.4" y="325.7">/</text><text x="230.2" y="325.7" class="gk" font-size="13.5">π</text><text x="238.6" y="325.7">G</text><text x="251" y="325.7" class="gk" font-size="13">ρ</text>
</g>
<text x="65.8" y="98.6" font-size="8.7" fill="#111" stroke="#111" stroke-width="0.15">d)</text>
<rect x="340" y="274.5" width="61" height="18" fill="#fff" stroke="#000" stroke-width="0.8"/>
<g font-size="8.5" fill="#111" stroke="#111" stroke-width="0.12"><text x="341.4" y="281.6">q=0.5</text><text x="341.4" y="289">q=0.4</text></g>
<g stroke-width="1.1" stroke-dasharray="3.2 3" fill="none"><path d="M367.6,280H395.1" stroke="#00ff00"/><path d="M367.6,287.3H395.1" stroke="#0000ff"/></g>
<g font-size="6.6" fill="#ff0000" stroke="#ff0000" stroke-width="0.2" text-anchor="middle">
<text x="104.4" y="279.3">2004 VC<tspan font-size="4" dy="1.5">131</tspan></text>
<text x="106.4" y="286.9">ρ=5 g cm<tspan font-size="4.6" dy="-3.2">-3</tspan></text>
<text x="104.7" y="294.9">q=0.5</text>
</g>
<g font-size="6.6" fill="#ff0000" stroke="#ff0000" stroke-width="0.2" text-anchor="middle">
<text x="217.5" y="279.3">2004 VC<tspan font-size="4" dy="1.5">131</tspan></text>
<text x="219.5" y="286.9">ρ=1 g cm<tspan font-size="4.6" dy="-3.2">-3</tspan></text>
<text x="217.8" y="294.9">q=0.4</text>
</g>
<text x="325.3" y="81.4" font-size="7" fill="#0000ff" text-anchor="middle">D</text>
<text x="338.2" y="76.5" font-size="7" fill="#00ff00" text-anchor="middle">D</text>
<text x="326.1" y="90.2" font-size="7" fill="#0000ff" text-anchor="start">b/a</text>
<text x="329.9" y="115.1" font-size="7" fill="#0000ff" text-anchor="start">c/a</text>
<text x="363.6" y="115.1" font-size="7" fill="#00ff00" text-anchor="start">b/a</text>
<text x="348.4" y="132" font-size="7" fill="#00ff00" text-anchor="start">c/a</text>
<text x="331.9" y="165.3" font-size="7" fill="#00ff00" text-anchor="start">b<tspan font-size="4.2" dy="1.1">sat</tspan><tspan dy="-1.1">/a</tspan><tspan font-size="4.2" dy="1.1">sat</tspan></text>
<text x="322.4" y="171.3" font-size="7" fill="#0000ff" text-anchor="start">b<tspan font-size="4.2" dy="1.1">sat</tspan><tspan dy="-1.1">/a</tspan><tspan font-size="4.2" dy="1.1">sat</tspan></text>
<text x="302.2" y="188" font-size="7" fill="#0000ff" text-anchor="start">c<tspan font-size="4.2" dy="1.1">sat</tspan><tspan dy="-1.1">/a</tspan><tspan font-size="4.2" dy="1.1">sat</tspan></text>
<text x="331.2" y="187.5" font-size="7" fill="#00ff00" text-anchor="start">c<tspan font-size="4.2" dy="1.1">sat</tspan><tspan dy="-1.1">/a</tspan><tspan font-size="4.2" dy="1.1">sat</tspan></text>
</svg></body></html>
